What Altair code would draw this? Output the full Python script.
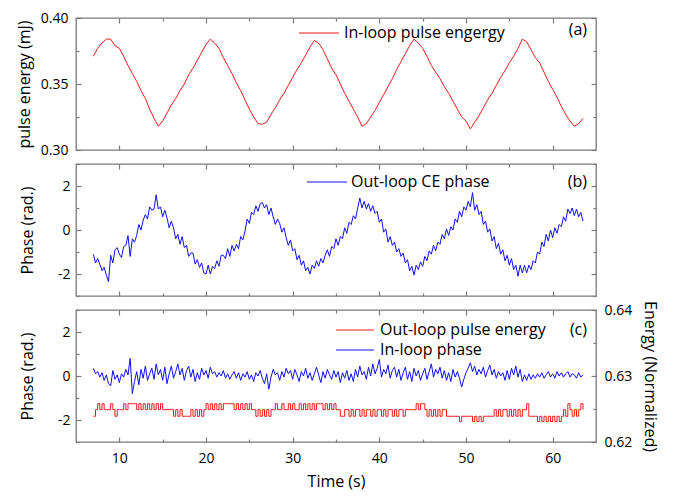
import altair as alt
import pandas as pd

# ---------------- data ----------------
T0 = 7.0
A_DT = 0.5     # sampling of panel (a)
N_DT = 0.25    # sampling of panels (b) and (c)

# (a) in-loop pulse energy, mJ
PULSE_ENERGY = [
    0.371, 0.377, 0.381, 0.384, 0.384, 0.379, 0.377, 0.371, 0.364, 0.358,
    0.352, 0.345, 0.339, 0.331, 0.324, 0.318, 0.322, 0.328, 0.334, 0.339,
    0.345, 0.350, 0.357, 0.362, 0.368, 0.374, 0.380, 0.384, 0.381, 0.377,
    0.370, 0.364, 0.358, 0.351, 0.345, 0.338, 0.331, 0.325, 0.320, 0.3195,
    0.321, 0.327, 0.332, 0.338, 0.343, 0.349, 0.355, 0.361, 0.366, 0.372,
    0.378, 0.383, 0.381, 0.376, 0.369, 0.362, 0.357, 0.350, 0.343, 0.337,
    0.331, 0.325, 0.318, 0.320, 0.325, 0.330, 0.336, 0.342, 0.348, 0.354,
    0.361, 0.367, 0.373, 0.379, 0.384, 0.381, 0.377, 0.371, 0.364, 0.359,
    0.354, 0.348, 0.343, 0.337, 0.331, 0.325, 0.322, 0.316, 0.321, 0.326,
    0.332, 0.338, 0.343, 0.349, 0.355, 0.360, 0.366, 0.371, 0.377, 0.384,
    0.382, 0.376, 0.370, 0.366, 0.359, 0.352, 0.346, 0.340, 0.333, 0.327,
    0.322, 0.318, 0.320, 0.324,
]

# (b) out-loop CE phase, rad
OUT_LOOP_PHASE = [
    -1.10, -1.50, -1.30, -1.55, -1.85, -1.70, -2.05, -2.35,
    -1.15, -1.50, -0.90, -0.80, -1.10, -1.25, -0.75, -0.70,
    -0.25, -1.20, -0.40, -0.55, -0.25, 0.25, 0.00, 0.45,
    0.70, 0.50, 1.05, 0.90, 0.95, 1.60, 0.95, 1.05,
    0.60, 0.90, 0.55, 0.10, 0.40, 0.10, -0.40, -0.20,
    -0.65, -0.30, -0.80, -0.70, -1.20, -1.05, -1.05, -1.55,
    -1.35, -1.70, -1.50, -1.95, -2.00, -1.60, -2.00, -1.65,
    -1.75, -1.40, -1.65, -1.15, -1.15, -1.30, -0.85, -1.20,
    -0.70, -0.95, -0.65, -0.85, -0.30, -0.45, -0.05, 0.50,
    0.30, 0.80, 0.70, 1.10, 0.85, 1.20, 1.25, 1.00,
    1.15, 0.70, 1.00, 0.60, 0.25, 0.50, 0.30, -0.10,
    0.10, -0.35, -0.70, -0.45, -0.95, -0.85, -1.35, -1.15,
    -1.60, -1.40, -1.85, -1.70, -2.00, -1.60, -1.75, -1.40,
    -1.65, -1.30, -1.50, -1.15, -0.90, -1.20, -0.75, -0.85,
    -0.40, -0.70, -0.30, -0.40, 0.10, -0.15, 0.35, 0.25,
    0.65, 0.50, 1.00, 1.45, 1.00, 1.30, 0.95, 1.20,
    0.85, 1.10, 0.75, 0.85, 0.35, 0.50, -0.10, 0.05,
    -0.55, -0.30, -0.70, -0.55, -1.00, -0.85, -1.20, -1.05,
    -1.50, -1.35, -1.85, -1.65, -2.05, -1.60, -1.80, -1.45,
    -1.65, -1.20, -1.40, -0.95, -1.10, -0.70, -0.95, -0.55,
    -0.65, -0.20, -0.40, 0.05, -0.25, 0.15, 0.00, 0.50,
    0.35, 0.85, 0.60, 1.05, 0.90, 1.30, 1.05, 1.70,
    0.90, 1.15, 0.70, 0.85, 0.25, 0.40, -0.10, 0.05,
    -0.50, -0.30, -0.85, -0.60, -1.10, -0.90, -1.40, -1.15,
    -1.60, -1.30, -1.80, -1.60, -2.10, -1.60, -1.95, -1.60,
    -1.95, -1.60, -1.80, -1.40, -1.50, -1.00, -1.10, -0.55,
    -0.75, -0.20, -0.50, 0.00, -0.35, 0.10, -0.15, 0.25,
    0.15, 0.60, 0.40, 0.95, 0.75, 1.00, 0.65, 0.95,
    0.60, 0.80, 0.40,
]

# (c) in-loop phase, rad
IN_LOOP_PHASE = [
    0.35, 0.10, 0.20, -0.05, 0.15, -0.20, 0.05, -0.35,
    -0.45, 0.25, -0.15, 0.05, -0.30, 0.10, -0.05, 0.30,
    0.05, 0.80, -0.80, -0.25, 0.20, -0.40, 0.30, -0.10,
    0.45, -0.20, 0.10, 0.35, -0.15, 0.55, 0.05, 0.30,
    -0.20, 0.40, -0.35, 0.10, 0.45, -0.10, 0.20, 0.55,
    0.05, 0.35, -0.20, 0.25, 0.45, -0.05, 0.30, -0.25,
    0.15, -0.15, 0.35, 0.05, 0.25, -0.10, 0.40, 0.10,
    0.20, -0.05, 0.15, 0.00, 0.25, -0.10, 0.10, -0.15,
    0.05, 0.20, -0.10, 0.15, -0.20, 0.10, -0.05, 0.20,
    -0.15, 0.05, -0.25, 0.15, 0.00, 0.25, -0.10, -0.35,
    0.10, -0.60, -0.05, 0.30, 0.05, 0.15, -0.20, 0.20,
    -0.05, 0.35, 0.10, 0.25, -0.15, 0.30, 0.05, -0.25,
    0.20, 0.00, 0.35, -0.10, 0.15, -0.20, 0.10, 0.40,
    0.05, -0.30, 0.20, -0.10, 0.30, 0.05, -0.15, 0.25,
    -0.05, 0.20, -0.30, 0.15, -0.10, 0.25, -0.20, 0.10,
    -0.25, 0.30, -0.05, 0.45, 0.05, 0.20, -0.15, 0.40,
    0.00, 0.55, 0.10, 0.35, 0.75, -0.05, 0.30, 0.10,
    0.50, -0.10, 0.25, 0.40, -0.05, 0.30, -0.20, 0.15,
    0.40, -0.15, 0.20, -0.25, 0.35, 0.00, 0.25, -0.20,
    0.10, 0.35, -0.15, 0.20, 0.55, -0.05, 0.30, 0.10,
    0.40, -0.10, 0.25, -0.20, 0.15, -0.25, 0.30, -0.05,
    0.20, -0.10, -0.50, -0.15, 0.15, 0.35, 0.60, 0.20,
    0.45, 0.05, 0.30, 0.10, 0.40, -0.05, 0.25, 0.50,
    0.05, 0.30, -0.10, 0.20, 0.00, 0.15, -0.20, 0.25,
    -0.15, 0.35, 0.05, 0.45, -0.05, 0.30, -0.25, 0.05,
    -0.20, 0.10, -0.15, 0.05, -0.10, 0.10, -0.05, 0.15,
    -0.10, 0.05, 0.20, -0.05, 0.10, -0.10, 0.20, 0.00,
    0.15, -0.05, 0.10, 0.20, -0.05, 0.10, 0.05, -0.10,
    0.15, -0.05, 0.05,
]

# (c) out-loop pulse energy, normalized (right axis)
OUT_LOOP_ENERGY = [
    0.6239, 0.6249, 0.6258, 0.6249, 0.6258, 0.6249, 0.6249, 0.6249,
    0.6258, 0.6249, 0.6239, 0.6249, 0.6249, 0.6249, 0.6258, 0.6249,
    0.6258, 0.6258, 0.6258, 0.6258, 0.6249, 0.6258, 0.6249, 0.6258,
    0.6249, 0.6258, 0.6249, 0.6258, 0.6249, 0.6258, 0.6249, 0.6258,
    0.6249, 0.6249, 0.6249, 0.6249, 0.6249, 0.6239, 0.6249, 0.6239,
    0.6249, 0.6239, 0.6239, 0.6239, 0.6239, 0.6249, 0.6239, 0.6249,
    0.6239, 0.6249, 0.6239, 0.6249, 0.6258, 0.6249, 0.6258, 0.6249,
    0.6258, 0.6249, 0.6258, 0.6249, 0.6258, 0.6258, 0.6258, 0.6258,
    0.6258, 0.6249, 0.6258, 0.6249, 0.6258, 0.6249, 0.6258, 0.6249,
    0.6258, 0.6249, 0.6249, 0.6239, 0.6249, 0.6239, 0.6249, 0.6239,
    0.6249, 0.6239, 0.6249, 0.6249, 0.6258, 0.6249, 0.6249, 0.6258,
    0.6249, 0.6249, 0.6258, 0.6249, 0.6258, 0.6249, 0.6249, 0.6258,
    0.6249, 0.6258, 0.6249, 0.6258, 0.6249, 0.6258, 0.6249, 0.6258,
    0.6258, 0.6258, 0.6249, 0.6258, 0.6249, 0.6258, 0.6249, 0.6258,
    0.6249, 0.6249, 0.6239, 0.6239, 0.6249, 0.6249, 0.6239, 0.6249,
    0.6239, 0.6249, 0.6249, 0.6239, 0.6249, 0.6239, 0.6249, 0.6249,
    0.6239, 0.6249, 0.6239, 0.6249, 0.6249, 0.6239, 0.6249, 0.6239,
    0.6249, 0.6249, 0.6239, 0.6249, 0.6239, 0.6249, 0.6249, 0.6239,
    0.6249, 0.6249, 0.6249, 0.6249, 0.6249, 0.6258, 0.6249, 0.6258,
    0.6258, 0.6249, 0.6239, 0.6249, 0.6239, 0.6249, 0.6239, 0.6249,
    0.6239, 0.6249, 0.6249, 0.6239, 0.6239, 0.6239, 0.6239, 0.6239,
    0.6239, 0.6231, 0.6239, 0.6239, 0.6239, 0.6239, 0.6239, 0.6231,
    0.6239, 0.6231, 0.6239, 0.6231, 0.6239, 0.6239, 0.6239, 0.6239,
    0.6239, 0.6249, 0.6239, 0.6249, 0.6239, 0.6249, 0.6249, 0.6239,
    0.6249, 0.6239, 0.6249, 0.6239, 0.6249, 0.6239, 0.6249, 0.6249,
    0.6258, 0.6239, 0.6239, 0.6239, 0.6239, 0.6231, 0.6239, 0.6231,
    0.6239, 0.6231, 0.6239, 0.6231, 0.6239, 0.6231, 0.6239, 0.6231,
    0.6239, 0.6249, 0.6239, 0.6258, 0.6249, 0.6239, 0.6249, 0.6239,
    0.6249, 0.6258, 0.6249,
]

X_VALUES = [10, 15, 20, 25, 30, 35, 40, 45, 50, 55, 60]
YA_VALUES = [0.30, 0.325, 0.35, 0.375, 0.40]
YP_VALUES = [-3, -2, -1, 0, 1, 2, 3]
YE_VALUES = [0.62, 0.625, 0.63, 0.635, 0.64]


def times(n, dt):
    return [round(T0 + i * dt, 3) for i in range(n)]


df_a = pd.DataFrame({"t": times(len(PULSE_ENERGY), A_DT), "v": PULSE_ENERGY})
df_b = pd.DataFrame({"t": times(len(OUT_LOOP_PHASE), N_DT), "v": OUT_LOOP_PHASE})
df_c1 = pd.DataFrame({"t": times(len(IN_LOOP_PHASE), N_DT), "v": IN_LOOP_PHASE})
df_c2 = pd.DataFrame({"t": times(len(OUT_LOOP_ENERGY), N_DT), "v": OUT_LOOP_ENERGY})

# ---------------- styling ----------------
FONT = "Open Sans"
FRAME = "#7a7a7a"
RED = "#ee1c1c"
BLUE = "#1010ee"
W = 520
H = 132

X_MAJOR = "datum.value % 10 === 0"
xscale = alt.Scale(domain=[5, 65], nice=False, zero=False)


def xaxis(orient, labels=False):
    common = dict(orient=orient, values=X_VALUES, domain=False, grid=False,
                  tickSize={"expr": f"({X_MAJOR}) ? -5 : -3"},
                  tickColor=FRAME, tickWidth=1.2, minExtent=0)
    if labels:
        return alt.Axis(**common, labels=True,
                        labelExpr=f"({X_MAJOR}) ? datum.label : ''",
                        labelFontSize=14, labelColor="black", labelPadding=14,
                        labelFlush=False, labelOverlap=False,
                        title="Time (s)", titleFontSize=16,
                        titleFontWeight="normal", titleColor="black",
                        titlePadding=6)
    return alt.Axis(**common, labels=False, title=None)


def yaxis(orient, values, major, label_expr=None, title=None,
          label_pad=12, title_pad=8):
    common = dict(orient=orient, values=values, domain=False, grid=False,
                  tickSize={"expr": f"({major}) ? -5 : -3"},
                  tickColor=FRAME, tickWidth=1.2, minExtent=0)
    if label_expr is None:
        return alt.Axis(**common, labels=False, title=None)
    return alt.Axis(**common, labels=True,
                    labelExpr=f"({major}) ? ({label_expr}) : ''",
                    labelFontSize=14, labelColor="black",
                    labelPadding=label_pad, labelFlush=False,
                    labelOverlap=False,
                    title=title, titleFontSize=16, titleFontWeight="normal",
                    titleColor="black", titlePadding=title_pad)


A_MAJOR = "abs(datum.value*20 - round(datum.value*20)) < 1e-6"
P_MAJOR = "datum.value % 2 === 0"
E_MAJOR = "abs(datum.value*100 - round(datum.value*100)) < 1e-6"


def swatch(color, x0, x1, y):
    return alt.Chart(pd.DataFrame({"k": [0]})).mark_rule(
        color=color, strokeWidth=1).encode(
        x=alt.value(x0), x2=alt.value(x1), y=alt.value(y))


def note(text, x, y, align="left"):
    return alt.Chart(pd.DataFrame({"label": [text]})).mark_text(
        align=align, baseline="middle", font=FONT, fontSize=16,
        color="black").encode(x=alt.value(x), y=alt.value(y), text="label:N")


# ---------------- panel (a) ----------------
ya_scale = alt.Scale(domain=[0.30, 0.40], nice=False, zero=False)
line_a = alt.Chart(df_a).mark_line(color=RED, strokeWidth=1).encode(
    x=alt.X("t:Q", scale=xscale, axis=xaxis("bottom")),
    y=alt.Y("v:Q", scale=ya_scale,
            axis=yaxis("left", YA_VALUES, A_MAJOR,
                       label_expr="format(datum.value, '.2f')",
                       title="pulse energy (mJ)", label_pad=13,
                       title_pad=8)),
)
mirror_a = alt.Chart(df_a).mark_line(opacity=0).encode(
    x=alt.X("t:Q", scale=xscale, axis=xaxis("top")),
    y=alt.Y("v:Q", scale=ya_scale, axis=yaxis("right", YA_VALUES, A_MAJOR)),
)
panel_a = alt.layer(
    line_a, mirror_a,
    swatch(RED, 223, 263, 15), note("In-loop pulse engergy", 268, 15),
    note("(a)", 511, 12, align="right"),
).resolve_axis(x="independent", y="independent").properties(width=W, height=H)

# ---------------- panel (b) ----------------
yp_scale = alt.Scale(domain=[-3, 3], nice=False, zero=False)
line_b = alt.Chart(df_b).mark_line(color=BLUE, strokeWidth=1).encode(
    x=alt.X("t:Q", scale=xscale, axis=xaxis("bottom")),
    y=alt.Y("v:Q", scale=yp_scale,
            axis=yaxis("left", YP_VALUES, P_MAJOR,
                       label_expr="'' + datum.value",
                       title="Phase (rad.)", label_pad=11, title_pad=22)),
)
mirror_b = alt.Chart(df_b).mark_line(opacity=0).encode(
    x=alt.X("t:Q", scale=xscale, axis=xaxis("top")),
    y=alt.Y("v:Q", scale=yp_scale, axis=yaxis("right", YP_VALUES, P_MAJOR)),
)
panel_b = alt.layer(
    line_b, mirror_b,
    swatch(BLUE, 231, 271, 18), note("Out-loop CE phase", 275, 18),
    note("(b)", 511, 18, align="right"),
).resolve_axis(x="independent", y="independent").properties(width=W, height=H)

# ---------------- panel (c) ----------------
ye_scale = alt.Scale(domain=[0.62, 0.64], nice=False, zero=False)
line_c1 = alt.Chart(df_c1).mark_line(color=BLUE, strokeWidth=1).encode(
    x=alt.X("t:Q", scale=xscale, axis=xaxis("bottom", labels=True)),
    y=alt.Y("v:Q", scale=yp_scale,
            axis=yaxis("left", YP_VALUES, P_MAJOR,
                       label_expr="'' + datum.value",
                       title="Phase (rad.)", label_pad=11, title_pad=22)),
)
line_c2 = alt.Chart(df_c2).mark_line(
    color=RED, strokeWidth=1, interpolate="step-after").encode(
    x=alt.X("t:Q", scale=xscale, axis=xaxis("top")),
    y=alt.Y("v:Q", scale=ye_scale,
            axis=yaxis("right", YE_VALUES, E_MAJOR,
                       label_expr="format(datum.value, '.2f')",
                       title="Energy (Normalized)", label_pad=13,
                       title_pad=10)),
)
panel_c = alt.layer(
    line_c1, line_c2,
    swatch(RED, 260, 298, 20), note("Out-loop pulse energy", 304, 20),
    swatch(BLUE, 260, 298, 40), note("In-loop phase", 304, 40),
    note("(c)", 511, 20, align="right"),
).resolve_scale(y="independent").resolve_axis(
    x="independent", y="independent").properties(width=W, height=H)

chart = alt.vconcat(panel_a, panel_b, panel_c, spacing=14,
                    bounds="flush").properties(
    padding={"left": 7, "right": 4, "top": 2, "bottom": 2},
    background="white",
).configure_view(stroke=FRAME, strokeWidth=1.3).configure_axis(
    labelFont=FONT, titleFont=FONT)

chart.save("out.html", embed_options={"renderer": "svg", "actions": False})
